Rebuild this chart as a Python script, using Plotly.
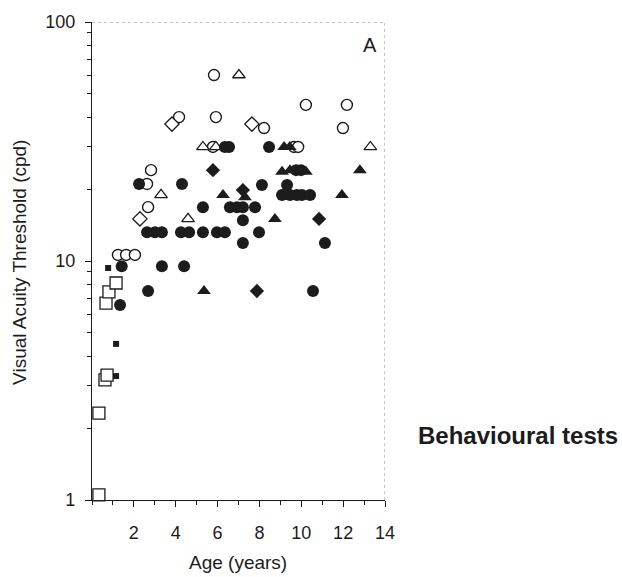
import plotly.graph_objects as go

# ---------------- data ----------------
open_sq_x = [0.33, 0.33, 0.62, 0.72, 0.67, 0.81, 1.15]
open_sq_y = [1.05, 2.31, 3.18, 3.33, 6.67, 7.42, 8.09]

small_sq_x = [0.77, 1.15, 1.15]
small_sq_y = [9.35, 4.5, 3.3]

open_circ_x = [1.24, 1.63, 2.05, 2.63, 2.82, 2.68, 4.16, 5.83, 5.92, 5.78,
               8.22, 9.65, 9.85, 10.22, 11.99, 12.18]
open_circ_y = [10.6, 10.6, 10.6, 21.0, 24.0, 16.8, 40.0, 60.0, 40.0, 30.0,
               36.0, 30.0, 30.0, 45.0, 36.0, 45.0]

open_tri_x = [7.02, 5.30, 5.92, 13.30, 3.30, 4.59]
open_tri_y = [60.0, 30.0, 30.0, 30.0, 18.9, 15.0]

open_dia_x = [3.82, 7.64, 2.29]
open_dia_y = [37.4, 37.4, 15.0]

fill_dia_x = [5.78, 7.21, 10.85, 7.88]
fill_dia_y = [24.0, 19.8, 15.0, 7.49]

fill_tri_x = [6.26, 7.31, 8.74, 5.35, 9.18, 9.45, 9.08, 9.46, 10.22, 12.80, 11.94]
fill_tri_y = [18.9, 18.5, 15.0, 7.49, 30.0, 30.0, 23.6, 24.0, 23.6, 24.0, 18.9]

fill_circ_x = [1.42, 1.34, 2.25, 4.30, 8.12, 9.32, 6.35, 6.55, 8.46, 9.75, 9.99,
               9.08, 9.46, 9.79, 10.03, 10.42,
               5.30, 6.59, 6.93, 7.21, 7.79,
               7.21,
               2.63, 3.01, 3.34, 4.25, 4.64, 5.30, 5.97, 6.35, 7.98,
               7.21, 11.13,
               3.34, 4.40,
               2.68, 10.56]
fill_circ_y = [9.5, 6.55, 21.0, 21.0, 20.8, 20.8, 30.0, 30.0, 30.0, 24.0, 24.0,
               18.9, 18.9, 18.9, 18.9, 18.9,
               16.8, 16.8, 16.8, 16.8, 16.8,
               14.8,
               13.2, 13.2, 13.2, 13.2, 13.2, 13.2, 13.2, 13.2, 13.2,
               11.9, 11.9,
               9.5, 9.5,
               7.49, 7.49]

x_tickvals = [2, 4, 6, 8, 10, 12, 14]
x_minor = [0, 1, 3, 5, 7, 9, 11, 13]
y_tickvals = [1, 10, 100]
y_ticktext = ["1", "10", "100"]
y_minor = [2, 3, 4, 5, 6, 7, 8, 9, 20, 30, 40, 50, 60, 70, 80, 90]

INK = "#1c1c1c"
FONT = "Liberation Sans, Arial, sans-serif"

fig = go.Figure()

def add(xs, ys, symbol, size, filled, lw=1.3):
    fig.add_trace(go.Scatter(
        x=xs, y=ys, mode="markers", cliponaxis=False, showlegend=False,
        marker=dict(symbol=symbol, size=size,
                    color=INK if filled else "white",
                    line=dict(color=INK, width=0 if filled else lw))))

add(open_sq_x, open_sq_y, "square", 12, False)
add(small_sq_x, small_sq_y, "square", 6, True)
add(open_circ_x, open_circ_y, "circle", 11, False, 1.4)
add(open_tri_x, open_tri_y, "triangle-up", 11, False, 1.3)
add(open_dia_x, open_dia_y, "diamond", 11, False, 1.3)
add(fill_circ_x, fill_circ_y, "circle", 12, True)
add(fill_tri_x, fill_tri_y, "triangle-up", 12, True)
add(fill_dia_x, fill_dia_y, "diamond", 11, True)

# dotted top/right frame
fig.add_shape(type="line", xref="x", yref="y", x0=0, x1=14, y0=100, y1=100,
              line=dict(color="#888", width=1, dash="dot"))
fig.add_shape(type="line", xref="x", yref="y", x0=14, x1=14, y0=1, y1=100,
              line=dict(color="#888", width=1, dash="dot"))

fig.update_layout(
    width=622, height=577,
    margin=dict(l=92, r=237, t=22, b=77),
    paper_bgcolor="white", plot_bgcolor="white",
    font=dict(family=FONT, size=18, color=INK),
    xaxis=dict(range=[0, 14], showgrid=False, zeroline=False,
               showline=True, linecolor=INK, linewidth=1.3,
               ticks="outside", ticklen=6, tickcolor=INK, tickwidth=1,
               tickvals=x_tickvals, ticktext=[str(v) for v in x_tickvals],
               ticklabelstandoff=10,
               minor=dict(tickvals=x_minor, ticks="outside", ticklen=4,
                          tickcolor=INK, tickwidth=1)),
    yaxis=dict(type="log", range=[0, 2], showgrid=False, zeroline=False,
               showline=True, linecolor=INK, linewidth=1.3,
               ticks="outside", ticklen=6, tickcolor=INK, tickwidth=1,
               tickvals=y_tickvals, ticktext=y_ticktext,
               ticklabelstandoff=6,
               minor=dict(tickvals=y_minor, ticks="outside", ticklen=4,
                          tickcolor=INK, tickwidth=1)),
    annotations=[
        dict(text="A", xref="paper", yref="paper", x=0.949, y=0.952,
             xanchor="center", yanchor="middle",
             showarrow=False, font=dict(size=20, color=INK)),
        dict(text="<b>Behavioural tests</b>", xref="paper", yref="paper",
             x=1.454, y=0.134, xanchor="center", yanchor="middle",
             showarrow=False, font=dict(size=24, color=INK)),
        dict(text="Age (years)", xref="paper", yref="paper",
             x=0.498, y=-0.13, showarrow=False, xanchor="center",
             yanchor="middle", font=dict(size=19, color=INK)),
        dict(text="Visual Acuity Threshold (cpd)", xref="paper", yref="paper",
             x=-0.2457, y=0.496, showarrow=False, textangle=-90,
             xanchor="center", yanchor="middle",
             font=dict(size=19, color=INK)),
    ],
)

fig.write_html("out.html")
